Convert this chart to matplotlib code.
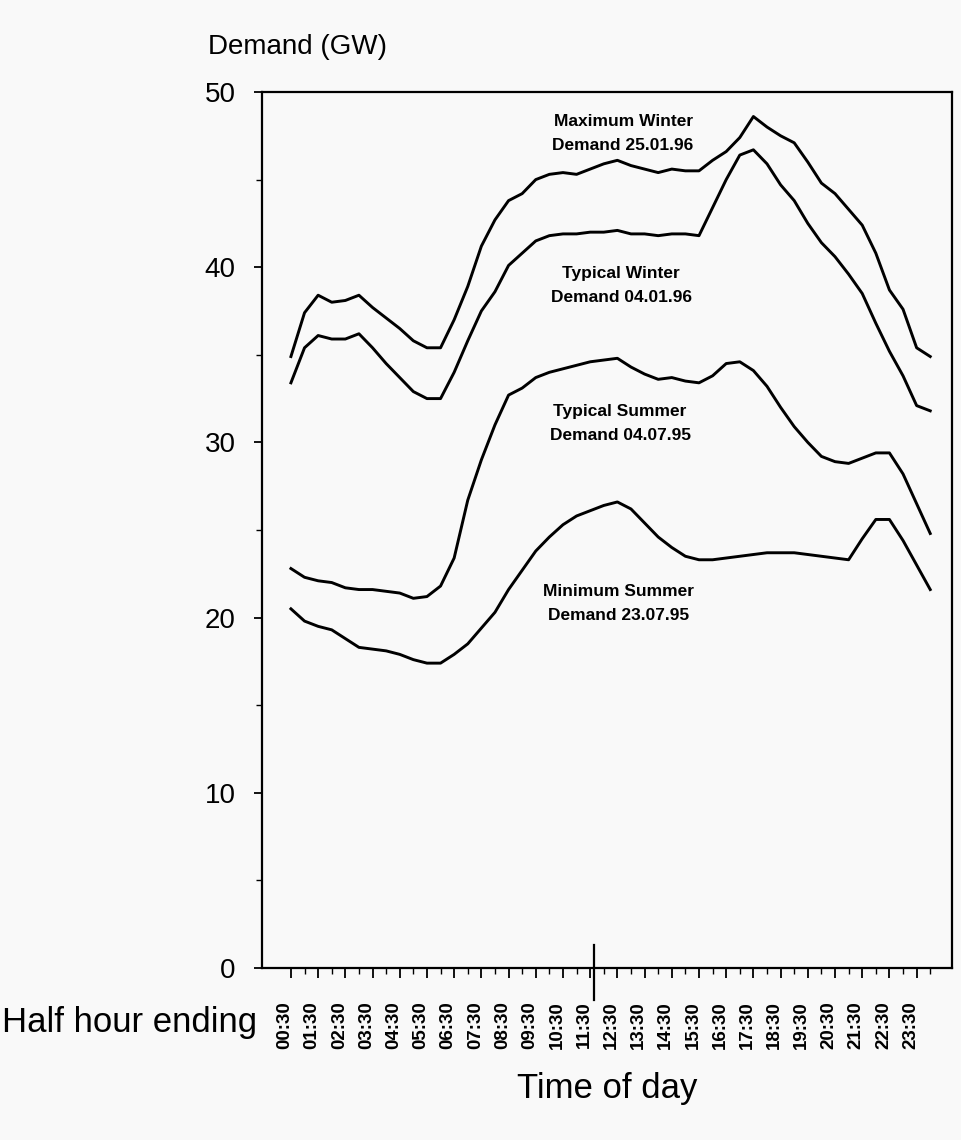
import matplotlib.pyplot as plt
import matplotlib.transforms as mtransforms
import numpy as np

plt.rcParams['font.family'] = ['Liberation Sans', 'DejaVu Sans']

# half hour periods 1..48 (00:30 ... 24:00)
periods = np.arange(1, 49)
tick_labels = ['%02d:30' % h for h in range(24)]

max_winter = [34.9, 37.4, 38.4, 38.0, 38.1, 38.4, 37.7, 37.1, 36.5, 35.8,
              35.4, 35.4, 37.0, 38.9, 41.2, 42.7, 43.8, 44.2, 45.0, 45.3,
              45.4, 45.3, 45.6, 45.9, 46.1, 45.8, 45.6, 45.4, 45.6, 45.5,
              45.5, 46.1, 46.6, 47.4, 48.6, 48.0, 47.5, 47.1, 46.0, 44.8,
              44.2, 43.3, 42.4, 40.8, 38.7, 37.6, 35.4, 34.9]
typical_winter = [33.4, 35.4, 36.1, 35.9, 35.9, 36.2, 35.4, 34.5, 33.7, 32.9,
                  32.5, 32.5, 34.0, 35.8, 37.5, 38.6, 40.1, 40.8, 41.5, 41.8,
                  41.9, 41.9, 42.0, 42.0, 42.1, 41.9, 41.9, 41.8, 41.9, 41.9,
                  41.8, 43.4, 45.0, 46.4, 46.7, 45.9, 44.7, 43.8, 42.5, 41.4,
                  40.6, 39.6, 38.5, 36.8, 35.2, 33.8, 32.1, 31.8]
typical_summer = [22.8, 22.3, 22.1, 22.0, 21.7, 21.6, 21.6, 21.5, 21.4, 21.1,
                  21.2, 21.8, 23.4, 26.7, 29.0, 31.0, 32.7, 33.1, 33.7, 34.0,
                  34.2, 34.4, 34.6, 34.7, 34.8, 34.3, 33.9, 33.6, 33.7, 33.5,
                  33.4, 33.8, 34.5, 34.6, 34.1, 33.2, 32.0, 30.9, 30.0, 29.2,
                  28.9, 28.8, 29.1, 29.4, 29.4, 28.2, 26.5, 24.8]
minimum_summer = [20.5, 19.8, 19.5, 19.3, 18.8, 18.3, 18.2, 18.1, 17.9, 17.6,
                  17.4, 17.4, 17.9, 18.5, 19.4, 20.3, 21.6, 22.7, 23.8, 24.6,
                  25.3, 25.8, 26.1, 26.4, 26.6, 26.2, 25.4, 24.6, 24.0, 23.5,
                  23.3, 23.3, 23.4, 23.5, 23.6, 23.7, 23.7, 23.7, 23.6, 23.5,
                  23.4, 23.3, 24.5, 25.6, 25.6, 24.4, 23.0, 21.6]

fig = plt.figure(figsize=(9.62, 11.4), dpi=100, facecolor='#f9f9f9')
ax = fig.add_axes([0.2723, 0.1509, 0.7173, 0.7684], facecolor='#f9f9f9')

for series in [max_winter, typical_winter, typical_summer, minimum_summer]:
    ax.plot(periods, series, color='black', linewidth=2.1, solid_joinstyle='round')

ax.set_xlim(-1.13, 49.6)
ax.set_ylim(0, 50)

ax.set_yticks([0, 10, 20, 30, 40, 50])
ax.set_yticks([5, 15, 25, 35, 45], minor=True)
ax.tick_params(axis='y', which='major', labelsize=20, length=6, width=1.3, pad=13)
ax.tick_params(axis='y', which='minor', length=4, width=1)

ax.set_xticks(periods[::2])
ax.set_xticklabels(tick_labels, rotation=90, fontsize=13.5, fontweight='bold')
ax.set_xticks(periods[1::2], minor=True)
ax.tick_params(axis='x', which='major', length=7, width=1.3, pad=17)
ax.tick_params(axis='x', which='minor', length=4, width=1)
shift = mtransforms.ScaledTranslation(-6 / 100, 0, fig.dpi_scale_trans)
for lbl in ax.get_xticklabels():
    lbl.set_transform(lbl.get_transform() + shift)

for s in ax.spines.values():
    s.set_linewidth(1.6)

# marker line crossing the time axis near midday
ax.plot([23.3, 23.3], [-0.037, 0.026], color='black', linewidth=1.6,
        transform=ax.get_xaxis_transform(), clip_on=False)

ann = dict(ha='center', va='center', fontsize=12.5, fontweight='bold', linespacing=1.75)
ax.text(25.42, 47.63, 'Maximum Winter\nDemand 25.01.96', **ann)
ax.text(25.27, 38.96, 'Typical Winter\nDemand 04.01.96', **ann)
ax.text(25.2, 31.08, 'Typical Summer\nDemand 04.07.95', **ann)
ax.text(25.1, 20.80, 'Minimum Summer\nDemand 23.07.95', **ann)

fig.text(0.216, 0.9588, 'Demand (GW)', ha='left', va='center', fontsize=20)
fig.text(0.002, 0.1035, 'Half hour ending', ha='left', va='center', fontsize=25)
fig.text(0.631, 0.0456, 'Time of day', ha='center', va='center', fontsize=25)

fig.savefig('out.png', dpi=100, facecolor=fig.get_facecolor())
